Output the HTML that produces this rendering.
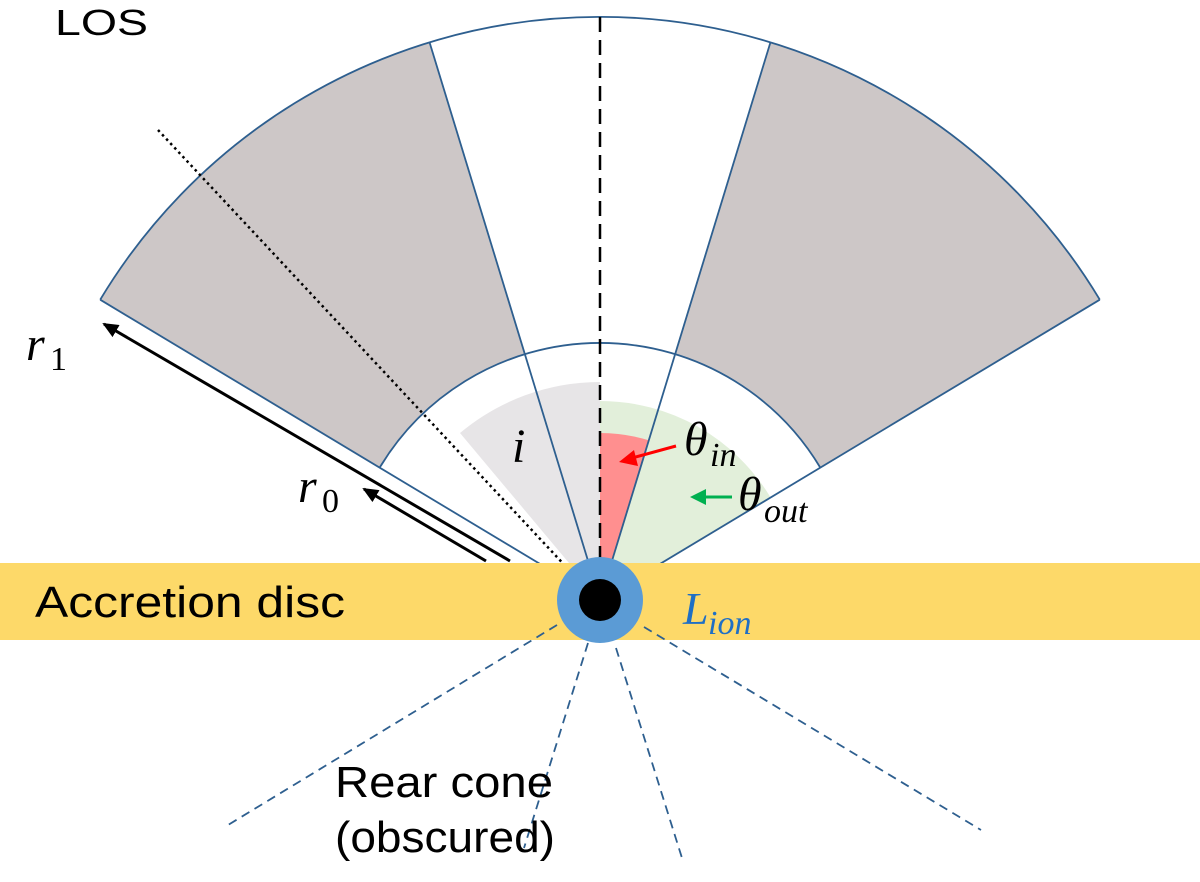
<!DOCTYPE html>
<html><head><meta charset="utf-8"><style>
html,body{margin:0;padding:0;background:#fff}
svg{display:block}
.m{font-family:"Liberation Serif",serif;font-style:italic}
.s{font-family:"Liberation Sans",sans-serif}
</style></head><body>
<svg width="1200" height="882" viewBox="0 0 1200 882" xmlns="http://www.w3.org/2000/svg">
<defs>
<marker id="ak" markerWidth="16" markerHeight="14" refX="14" refY="7" orient="auto" markerUnits="userSpaceOnUse" viewBox="0 0 16 14"><path d="M0,0 L16,7 L0,14 Z" fill="#000"/></marker>
</defs>
<path d="M429.6,42.5 A583 583 0 0 0 100.2,299.7 L379.7,467.6 A257 257 0 0 1 524.9,354.2 Z" fill="#cdc7c7"/>
<path d="M770.4,42.5 A583 583 0 0 1 1099.8,299.7 L820.3,467.6 A257 257 0 0 0 675.1,354.2 Z" fill="#cdc7c7"/>
<path d="M600,600 L600,382 A218 218 0 0 0 460,433 Z" fill="#e7e5e7"/>
<path d="M600,600 L600,401 A199 199 0 0 1 770.6,497.5 Z" fill="#e2efda"/>
<path d="M600,600 L600,433 A167 167 0 0 1 648.8,440.3 Z" fill="#ff8f8f"/>
<g stroke="#2e5f8f" stroke-width="1.8" fill="none">
<path d="M100.2,299.7 A583 583 0 0 1 1099.8,299.7"/>
<path d="M379.7,467.6 A257 257 0 0 1 820.3,467.6"/>
<line x1="600" y1="600" x2="100.2" y2="299.7"/>
<line x1="600" y1="600" x2="1099.8" y2="299.7"/>
<line x1="600" y1="600" x2="429.6" y2="42.5"/>
<line x1="600" y1="600" x2="770.4" y2="42.5"/>
</g>
<line x1="600" y1="17" x2="600" y2="565" stroke="#000" stroke-width="2.5" stroke-dasharray="15 8"/>
<line x1="158" y1="130" x2="585" y2="587" stroke="#000" stroke-width="2.5" stroke-dasharray="2.5 3.5"/>
<rect x="0" y="563" width="1200" height="77" fill="#fdd969"/>
<g stroke="#2e5f8f" stroke-width="1.8" stroke-dasharray="9 6">
<line x1="557" y1="625" x2="228" y2="825"/>
<line x1="588" y1="643" x2="524" y2="848"/>
<line x1="616" y1="648" x2="682" y2="858"/>
<line x1="644" y1="627" x2="981" y2="830"/>
</g>
<circle cx="600" cy="600" r="43" fill="#5b9bd5"/>
<circle cx="600" cy="600" r="21" fill="#000"/>
<line x1="510" y1="561" x2="104" y2="324" stroke="#000" stroke-width="3" marker-end="url(#ak)"/>
<line x1="486" y1="561" x2="364" y2="489" stroke="#000" stroke-width="3" marker-end="url(#ak)"/>
<line x1="676" y1="446" x2="632" y2="458" stroke="#f00" stroke-width="3"/>
<path d="M619,462 L634,450 L638,466 Z" fill="#f00"/>
<line x1="732" y1="497" x2="702" y2="497" stroke="#00b050" stroke-width="3"/>
<path d="M690,497 L706,489 L706,505 Z" fill="#00b050"/>
<text x="55" y="35" class="s" font-size="36" textLength="93" lengthAdjust="spacingAndGlyphs">LOS</text>
<text x="26" y="360" class="m" font-size="48">r</text><text x="50" y="370" font-family="Liberation Serif,serif" font-size="34">1</text>
<text x="298" y="502" class="m" font-size="48">r</text><text x="322" y="512" font-family="Liberation Serif,serif" font-size="34">0</text>
<text x="512" y="462" class="m" font-size="48">i</text>
<text x="684" y="455" class="m" font-size="48">θ</text><text x="710" y="466" class="m" font-size="34">in</text>
<text x="738" y="510" class="m" font-size="48">θ</text><text x="764" y="522" class="m" font-size="34">out</text>
<text x="35" y="617" class="s" font-size="44" textLength="310" lengthAdjust="spacingAndGlyphs">Accretion disc</text>
<text x="683" y="624" class="m" font-size="46" fill="#1f6fc5">L</text><text x="708" y="634" class="m" font-size="34" fill="#1f6fc5">ion</text>
<text x="335" y="797" class="s" font-size="44" textLength="218" lengthAdjust="spacingAndGlyphs">Rear cone</text>
<text x="335" y="852" class="s" font-size="44" textLength="220" lengthAdjust="spacingAndGlyphs">(obscured)</text>
</svg>
</body></html>
